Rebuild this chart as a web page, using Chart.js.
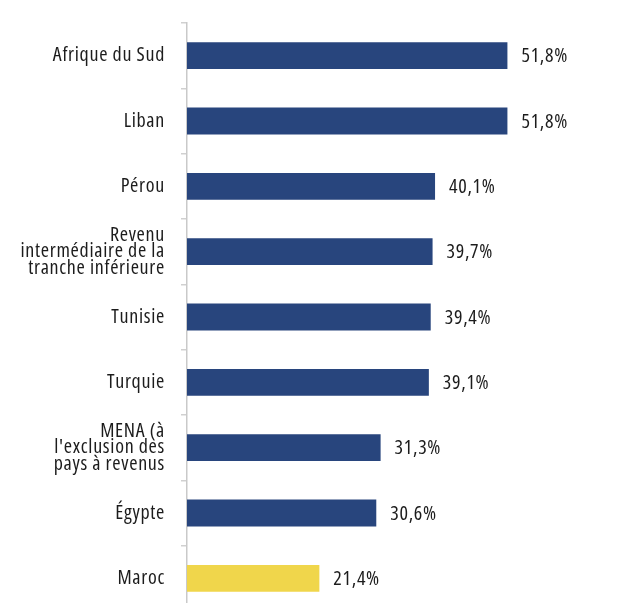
<!DOCTYPE html>
<html lang="fr">
<head>
<meta charset="utf-8">
<script src="https://cdn.jsdelivr.net/npm/chart.js@4.4.1/dist/chart.umd.min.js"></script>
<style>
  html, body { margin: 0; padding: 0; background: #ffffff; overflow: hidden; }
  canvas { display: block; }
</style>
</head>
<body>
<canvas id="chart" width="633" height="612"></canvas>
<script>
// Country / group labels (multi-line ones as arrays)
const categories = [
  'Afrique du Sud',
  'Liban',
  'Pérou',
  ['Revenu', 'intermédiaire de la', 'tranche inférieure'],
  'Tunisie',
  'Turquie',
  ['MENA (à', "l'exclusion des", 'pays à revenus'],
  'Égypte',
  'Maroc'
];

// Share, in percent
const values = [51.8, 51.8, 40.1, 39.7, 39.4, 39.1, 31.3, 30.6, 21.4];

// Morocco is highlighted
const highlighted = ['Maroc'];

const NAVY = '#28457d';
const YELLOW = '#f0d64b';
const AXIS_GREY = '#c9c9c9';
const TEXT = '#1c1c1c';
const FONT = "'Open Sans', 'DejaVu Sans Condensed', sans-serif";
const STRETCH = 'condensed';
const FONT_SIZE = 20;
const TRACKING = '0.7px';

const barColors = categories.map(c => highlighted.includes(c) ? YELLOW : NAVY);

const fmt = v => v.toFixed(1).replace('.', ',') + '%';

// Slightly open letter spacing for all chart text
const tracking = {
  id: 'tracking',
  beforeDraw(chart) { chart.ctx.letterSpacing = TRACKING; }
};

// Writes each bar's value just past its end
const valueLabels = {
  id: 'valueLabels',
  afterDatasetsDraw(chart) {
    const { ctx } = chart;
    const meta = chart.getDatasetMeta(0);
    ctx.save();
    ctx.letterSpacing = TRACKING;
    ctx.font = STRETCH + ' ' + FONT_SIZE + 'px ' + FONT;
    ctx.fillStyle = TEXT;
    ctx.textAlign = 'left';
    ctx.textBaseline = 'middle';
    meta.data.forEach((bar, i) => {
      ctx.fillText(fmt(values[i]), bar.x + 14, bar.y + 1);
    });
    ctx.restore();
  }
};

new Chart(document.getElementById('chart'), {
  type: 'bar',
  data: {
    labels: categories,
    datasets: [{
      data: values,
      backgroundColor: barColors,
      borderWidth: 0,
      barPercentage: 0.41,
      categoryPercentage: 1
    }]
  },
  options: {
    indexAxis: 'y',
    responsive: false,
    animation: false,
    layout: { padding: { top: 23, right: 13, bottom: 1, left: 0 } },
    plugins: {
      legend: { display: false },
      tooltip: { enabled: false }
    },
    scales: {
      x: {
        display: false,
        min: 0,
        max: 70
      },
      y: {
        afterFit(scale) {
          scale.width = 187;
          scale.paddingTop = 0;
          scale.paddingBottom = 0;
        },
        grid: {
          offset: true,
          drawOnChartArea: false,
          drawTicks: true,
          tickLength: 6,
          color: '#d0d0d0',
          lineWidth: 1.5
        },
        border: { display: true, color: AXIS_GREY, width: 1.5 },
        ticks: {
          autoSkip: false,
          padding: 16,
          color: TEXT,
          font: { family: FONT, size: FONT_SIZE, weight: STRETCH, lineHeight: 0.81 }
        }
      }
    }
  },
  plugins: [tracking, valueLabels]
});
</script>
</body>
</html>
